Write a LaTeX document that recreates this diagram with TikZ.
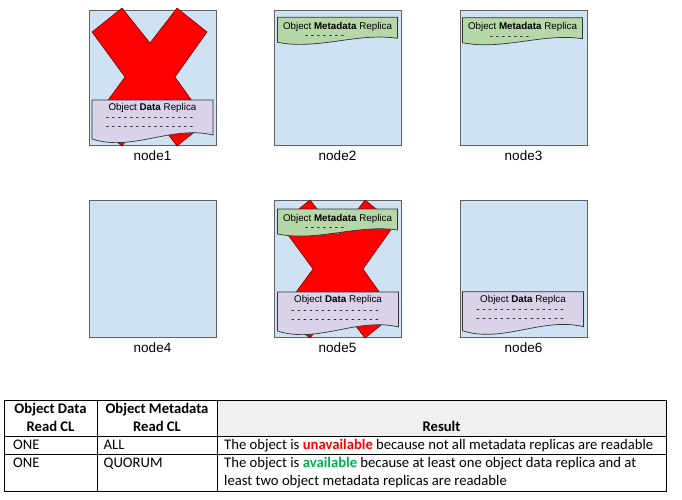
\documentclass[tikz,border=0pt]{standalone}
\usepackage{fontspec}
\setmainfont{Liberation Sans}
\newfontfamily\calib{Carlito}
\definecolor{boxblue}{HTML}{CFE2F3}
\definecolor{boxline}{HTML}{5F6368}
\definecolor{datafill}{HTML}{D9D2E9}
\definecolor{metafill}{HTML}{B6D7A8}
\definecolor{xred}{HTML}{FF0000}
\definecolor{hdrgrey}{HTML}{F0F0F0}
\definecolor{okgreen}{HTML}{00B050}
\newcommand\datadoc[4]{%
  \begin{scope}[shift={(#1,#2)}]
    \draw[docdata] (0,0) -- (121,0) -- (121,35) .. controls (80,25) and (40,52) .. (0,39) -- cycle;
    \node[doctxt] (#3t) at (60.5,8) {Object \textbf{Data} #4};
    \node[doctxt] (#3a) at (57.5,19.5) {- - - - - - - - - - - - - - -};
    \node[doctxt] (#3b) at (57.5,28.5) {- - - - - - - - - - - - - - -};
  \end{scope}}
\newcommand\metadoc[3]{%
  \begin{scope}[shift={(#1,#2)}]
    \draw[docmeta] (0,0) -- (120,0) -- (120,21) .. controls (80,15) and (40,33) .. (0,25) -- cycle;
    \node[doctxt] (#3t) at (60,9.5) {Object \textbf{Metadata} Replica};
    \node[doctxt] (#3a) at (47,20) {- - - - - - -};
  \end{scope}}
\begin{document}
\begin{tikzpicture}[x=1pt,y=-1pt,
  server/.style={draw=boxline,fill=boxblue,line width=1.2pt,minimum width=127,minimum height=135,anchor=north west,inner sep=0},
  cross/.style={fill=xred,draw=black!60!red,line width=0.5pt},
  docdata/.style={fill=datafill,draw=black!80,line width=0.7pt},
  docmeta/.style={fill=metafill,draw=black!80,line width=0.7pt},
  lbl/.style={font=\fontsize{13.5}{16}\selectfont,inner sep=0},
  doctxt/.style={font=\fontsize{9.8}{11}\selectfont,inner sep=0},
  tb/.style={font=\calib\fontsize{14.67}{17.6}\selectfont,inner sep=0,anchor=base west},
  th/.style={font=\calib\bfseries\fontsize{14.67}{17.6}\selectfont,inner sep=0,anchor=base},
  redx/.pic={\draw[cross] (-58,-45) -- (-28,-69) -- (0,-34) -- (27,-69) -- (57,-45) -- (25,0)
     -- (57,45) -- (27,69) -- (0,34) -- (-28,69) -- (-58,45) -- (-25,0) -- cycle;}]
\useasboundingbox (0,0) rectangle (682,499);
% servers
\node[server] (n1) at (89,10) {};
\node[server] (n2) at (274,10) {};
\node[server] (n3) at (460,10) {};
\node[server,minimum height=137] (n4) at (89,200) {};
\node[server,minimum height=137] (n5) at (274,200) {};
\node[server,minimum height=137] (n6) at (460,200) {};
% crosses and replicas
\pic at (150,77) {redx};
\datadoc{92}{100}{d1}{Replica}
\metadoc{277.5}{17.3}{m2}
\metadoc{462.5}{17.7}{m3}
\pic at (338,269) {redx};
\metadoc{277.5}{209}{m5}
\datadoc{277.5}{292}{d5}{Replica}
\datadoc{462.5}{291.7}{d6}{Replca}
% labels
\node[lbl] (l1) at (152.5,156) {node1};
\node[lbl] (l2) at (337.5,156) {node2};
\node[lbl] (l3) at (523.5,156) {node3};
\node[lbl] (l4) at (152.5,348) {node4};
\node[lbl] (l5) at (337.5,348) {node5};
\node[lbl] (l6) at (523.5,348) {node6};
% table
\fill[hdrgrey] (217,400) rectangle (666,436);
\draw[line width=1pt] (4,400) rectangle (666,491);
\draw[line width=1pt] (4,436) -- (666,436);
\draw[line width=1pt] (4,454) -- (666,454);
\draw[line width=1pt] (97,400) -- (97,491);
\draw[line width=1pt] (217,400) -- (217,491);
\node[th] (h1a) at (50.5,413.7) {Object Data};
\node[th] (h1b) at (50.5,431.7) {Read CL};
\node[th] (h2a) at (157,413.7) {Object Metadata};
\node[th] (h2b) at (157,431.7) {Read CL};
\node[th] (h3) at (441.5,431.7) {Result};
\node[tb] (r1a) at (13,449.7) {ONE};
\node[tb] (r1b) at (103.5,449.7) {ALL};
\node[tb] (r1c) at (224,449.7) {The object is \textcolor{xred}{\bfseries unavailable} because not all metadata replicas are readable};
\node[tb] (r2a) at (13,467.7) {ONE};
\node[tb] (r2b) at (103.5,467.7) {QUORUM};
\node[tb] (r2c) at (224,467.7) {The object is \textcolor{okgreen}{\bfseries available} because at least one object data replica and at};
\node[tb] (r2d) at (224,485.5) {least two object metadata replicas are readable};
\end{tikzpicture}
\end{document}
